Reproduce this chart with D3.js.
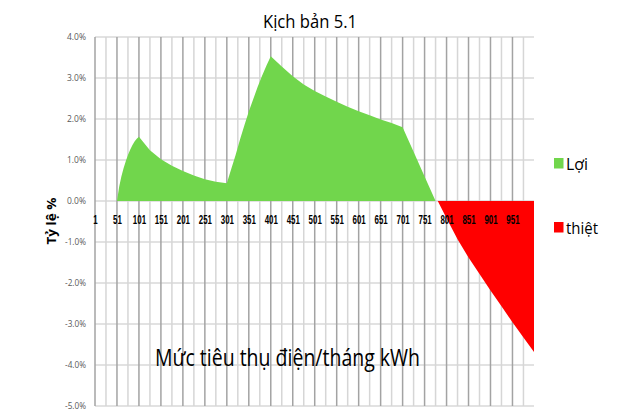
<!DOCTYPE html>
<html>
<head>
<meta charset="utf-8">
<script src="https://cdn.jsdelivr.net/npm/d3@7"></script>
<style>
  html, body { margin: 0; padding: 0; background: #fff; }
  svg { display: block; }
</style>
</head>
<body>
<svg id="chart" width="640" height="419"></svg>
<script>
// ---- data ----
const chartTitle = "Kịch bản 5.1";
const xAxisTitle = "Mức tiêu thụ điện/tháng kWh";
const yAxisTitle = "Tỷ lệ %";
const seriesNames = ["Lợi", "thiệt"];

const xTickLabels = [1, 51, 101, 151, 201, 251, 301, 351, 401, 451, 501, 551, 601, 651, 701, 751, 801, 851, 901, 951];
const yTicks = [4, 3, 2, 1, 0, -1, -2, -3, -4, -5];

// "Lợi" (gain) series: kWh and % value
const loiKwh = [1, 51, 56, 61, 66, 71, 76, 81, 86, 91, 96, 101,
  126, 151, 176, 201, 226, 251, 276, 301,
  311, 321, 331, 341, 351, 361, 371, 381, 391, 401,
  426, 451, 476, 501, 526, 551, 576, 601, 626, 651, 676, 701,
  726, 751, 776];
const loiPct = [0, 0, 0.35, 0.6, 0.8, 0.97, 1.12, 1.25, 1.36, 1.45, 1.52, 1.57,
  1.24, 1.02, 0.86, 0.73, 0.62, 0.53, 0.47, 0.43,
  0.78, 1.12, 1.5, 1.85, 2.18, 2.48, 2.78, 3.05, 3.3, 3.53,
  3.28, 3.04, 2.84, 2.68, 2.55, 2.42, 2.3, 2.19, 2.09, 1.99, 1.9, 1.8,
  1.2, 0.6, 0];

// "thiệt" (loss) series
const thietKwh = [776, 781, 801, 826, 851, 876, 901, 926, 951, 976, 1000];
const thietPct = [0, 0, -0.42, -0.93, -1.38, -1.78, -2.18, -2.57, -2.96, -3.33, -3.68];

const seriesColors = ["#71d64c", "#ff0000"];

// ---- layout ----
const svg = d3.select("#chart");
const plot = { left: 95, right: 534, top: 37, bottom: 406 };

const x = d3.scaleLinear().domain([1, 1000]).range([plot.left, plot.right]);
const y = d3.scaleLinear().domain([-5, 4]).range([plot.bottom, plot.top]);

// horizontal gridlines
svg.append("g").selectAll("line").data(yTicks).join("line")
  .attr("x1", plot.left).attr("x2", plot.right)
  .attr("y1", d => y(d)).attr("y2", d => y(d))
  .attr("stroke", "#d9d9d9").attr("stroke-width", 1.5);

// vertical gridlines every 25 kWh (dark at labelled positions)
const vGrid = d3.range(1, 1000, 25);
svg.append("g").selectAll("line").data(vGrid).join("line")
  .attr("x1", d => x(d)).attr("x2", d => x(d))
  .attr("y1", plot.top).attr("y2", plot.bottom)
  .attr("stroke", d => ((d - 1) % 50 === 0) ? "#a3a3a3" : "#d6d6d6")
  .attr("stroke-width", 1.5);

// areas
const loiData = loiKwh.map((k, i) => [k, loiPct[i]]);
const thietData = thietKwh.map((k, i) => [k, thietPct[i]]);
const area = d3.area().x(d => x(d[0])).y0(y(0)).y1(d => y(d[1]));

svg.append("path").datum(loiData).attr("d", area).attr("fill", seriesColors[0]);
svg.append("path").datum(thietData).attr("d", area).attr("fill", seriesColors[1]);

// x axis labels (axis crosses at 0)
const xAxis = d3.axisBottom(x).tickValues(xTickLabels).tickSize(0).tickPadding(0).tickFormat(d3.format("d"));
const gx = svg.append("g").attr("transform", `translate(0,${y(0)})`).call(xAxis);
gx.select(".domain").remove();
gx.selectAll("text")
  .attr("y", 22.5).attr("dy", 0)
  .attr("font-family", "'Liberation Sans Narrow', 'Liberation Sans', sans-serif")
  .attr("font-weight", "bold").attr("font-size", 12).attr("fill", "#000")
  .attr("textLength", d => String(d).length * 4.4)
  .attr("lengthAdjust", "spacingAndGlyphs");

// y axis labels
const yAxis = d3.axisLeft(y).tickValues(yTicks).tickSize(0).tickPadding(9)
  .tickFormat(d => d.toFixed(1) + "%");
const gy = svg.append("g").attr("transform", `translate(${plot.left},0)`).call(yAxis);
gy.select(".domain").remove();
gy.selectAll("text")
  .attr("font-family", "'Open Sans', sans-serif").attr("font-size", 9)
  .attr("fill", "#595959")
  .attr("textLength", d => (d < 0 ? 21 : 19))
  .attr("lengthAdjust", "spacingAndGlyphs");

// titles
svg.append("text").text(chartTitle)
  .attr("x", 263).attr("y", 28)
  .attr("font-family", "'Open Sans', sans-serif").attr("font-size", 19)
  .attr("fill", "#000")
  .attr("textLength", 94).attr("lengthAdjust", "spacingAndGlyphs");

svg.append("text").text(xAxisTitle)
  .attr("x", 155).attr("y", 366)
  .attr("font-family", "'Open Sans', sans-serif").attr("font-size", 23)
  .attr("fill", "#000")
  .attr("textLength", 265).attr("lengthAdjust", "spacingAndGlyphs");

svg.append("text").text(yAxisTitle)
  .attr("transform", "translate(56,221) rotate(-90)")
  .attr("text-anchor", "middle")
  .attr("font-family", "'Open Sans', sans-serif").attr("font-size", 12.5)
  .attr("font-weight", "bold").attr("fill", "#000")
  .attr("textLength", 47).attr("lengthAdjust", "spacingAndGlyphs");

// legend
const legendY = [158, 222];
const legendW = [22, 32];
const lg = svg.append("g");
seriesNames.forEach((name, i) => {
  lg.append("rect").attr("x", 554).attr("y", legendY[i]).attr("width", 9.5).attr("height", 10.5)
    .attr("fill", seriesColors[i]);
  lg.append("text").text(name)
    .attr("x", 566).attr("y", legendY[i] + 11.5)
    .attr("font-family", "'Open Sans', sans-serif").attr("font-size", 17)
    .attr("fill", "#000")
    .attr("textLength", legendW[i]).attr("lengthAdjust", "spacingAndGlyphs");
});
</script>
</body>
</html>
